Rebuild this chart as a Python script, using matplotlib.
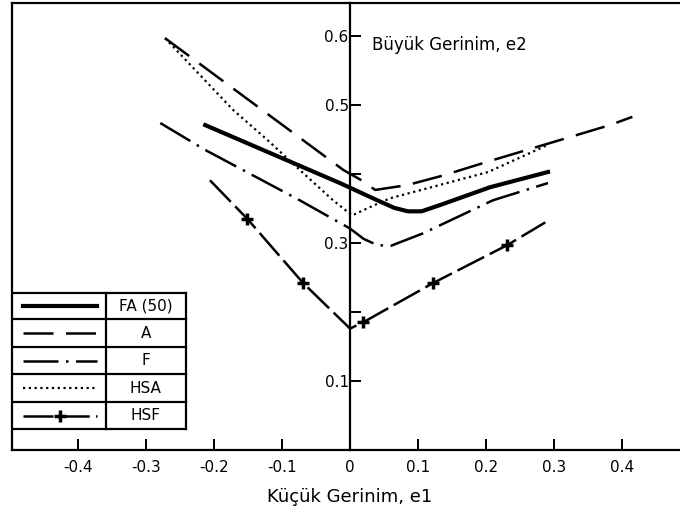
import matplotlib
matplotlib.use("Agg")
import matplotlib.pyplot as plt

# forming limit curves (e1 = minor, e2 = major strain)
fa_x = [-0.213, -0.015, 0.040, 0.065, 0.085, 0.105, 0.132, 0.206, 0.291]
fa_y = [0.471, 0.387, 0.362, 0.351, 0.346, 0.346, 0.355, 0.381, 0.403]

a_x = [-0.272, -0.010, 0.015, 0.037, 0.084, 0.137, 0.199, 0.382, 0.415]
a_y = [0.597, 0.406, 0.392, 0.377, 0.384, 0.398, 0.417, 0.471, 0.483]

f_x = [-0.279, -0.213, -0.074, 0.0, 0.020, 0.040, 0.060, 0.107, 0.210, 0.291]
f_y = [0.474, 0.435, 0.362, 0.321, 0.306, 0.297, 0.296, 0.314, 0.362, 0.387]

hsa_x = [-0.272, -0.172, -0.121, -0.074, -0.025, 0.003, 0.029, 0.059, 0.203, 0.290]
hsa_y = [0.597, 0.493, 0.449, 0.406, 0.362, 0.340, 0.352, 0.365, 0.403, 0.442]

hsf_x = [-0.206, -0.151, -0.069, 0.0, 0.019, 0.122, 0.231, 0.287]
hsf_y = [0.391, 0.335, 0.242, 0.176, 0.185, 0.242, 0.297, 0.330]
hsf_marks = [1, 2, 4, 5, 6]

labels = ["FA (50)", "A", "F", "HSA", "HSF"]
xticks = [-0.4, -0.3, -0.2, -0.1, 0, 0.1, 0.2, 0.3, 0.4]
xticklabels = ["-0.4", "-0.3", "-0.2", "-0.1", "0", "0.1", "0.2", "0.3", "0.4"]
yticks = [0.1, 0.2, 0.3, 0.4, 0.5, 0.6]
yticklabels = ["0.1", "", "0.3", "", "0.5", "0.6"]

styles = [
    dict(color="black", lw=3.0, ls="-"),
    dict(color="black", lw=1.8, ls=(0, (12, 5))),
    dict(color="black", lw=1.8, ls=(0, (14, 3, 1, 3))),
    dict(color="black", lw=1.6, ls=(0, (1, 1.6))),
    dict(color="black", lw=1.8, ls=(0, (12, 2.5))),
]

fig = plt.figure(figsize=(6.8, 5.26), dpi=100)
ax = fig.add_axes([12 / 680, 76 / 526, 668 / 680, 447 / 526])

ax.plot(fa_x, fa_y, **styles[0])
ax.plot(a_x, a_y, **styles[1])
ax.plot(f_x, f_y, **styles[2])
ax.plot(hsa_x, hsa_y, **styles[3])
ax.plot(hsf_x, hsf_y, marker="+", markevery=hsf_marks, ms=8, mew=2.5, **styles[4])

ax.set_xlim(-0.497, 0.485)
ax.set_ylim(0, 0.648)

# y axis through e1 = 0, plain frame on the left
ax.spines["left"].set_position(("data", 0))
ax.spines["right"].set_visible(False)
for s in ["left", "top", "bottom"]:
    ax.spines[s].set_linewidth(1.6)
ax.plot([0, 0], [0, 1], transform=ax.transAxes, color="black", lw=1.6, clip_on=False)

ax.set_xticks(xticks)
ax.set_xticklabels(xticklabels)
ax.set_yticks(yticks)
ax.set_yticklabels(yticklabels)
ax.tick_params(axis="both", direction="in", length=8, width=1.4, labelsize=11)
ax.tick_params(axis="x", pad=7)
ax.tick_params(axis="y", pad=1)

ax.text(0.032, 0.587, "Büyük Gerinim, e2", fontsize=12, va="center", ha="left")
fig.text(350 / 680, 1 - 497 / 526, "Küçük Gerinim, e1", fontsize=13, ha="center", va="center")

# legend drawn as a boxed table in the lower left corner
box_r, div_x = 0.260, 0.141
rows = [0.351, 0.293, 0.230, 0.170, 0.107, 0.047]
for yy in rows:
    ax.plot([0, box_r], [yy, yy], transform=ax.transAxes, color="black", lw=1.6)
ax.plot([div_x, div_x], [rows[0], rows[-1]], transform=ax.transAxes, color="black", lw=1.6)
ax.plot([box_r, box_r], [rows[0], rows[-1]], transform=ax.transAxes, color="black", lw=1.6)
for i, lab in enumerate(labels):
    yc = (rows[i] + rows[i + 1]) / 2
    kw = dict(styles[i])
    if i == 4:
        kw.update(marker="+", markevery=[1], ms=8, mew=2.5)
        ax.plot([0.016, 0.0715, 0.127], [yc, yc, yc], transform=ax.transAxes, **kw)
    else:
        ax.plot([0.016, 0.127], [yc, yc], transform=ax.transAxes, **kw)
    ax.text((div_x + box_r) / 2, yc, lab, transform=ax.transAxes, ha="center", va="center", fontsize=11)

fig.savefig("out.png", dpi=100)
